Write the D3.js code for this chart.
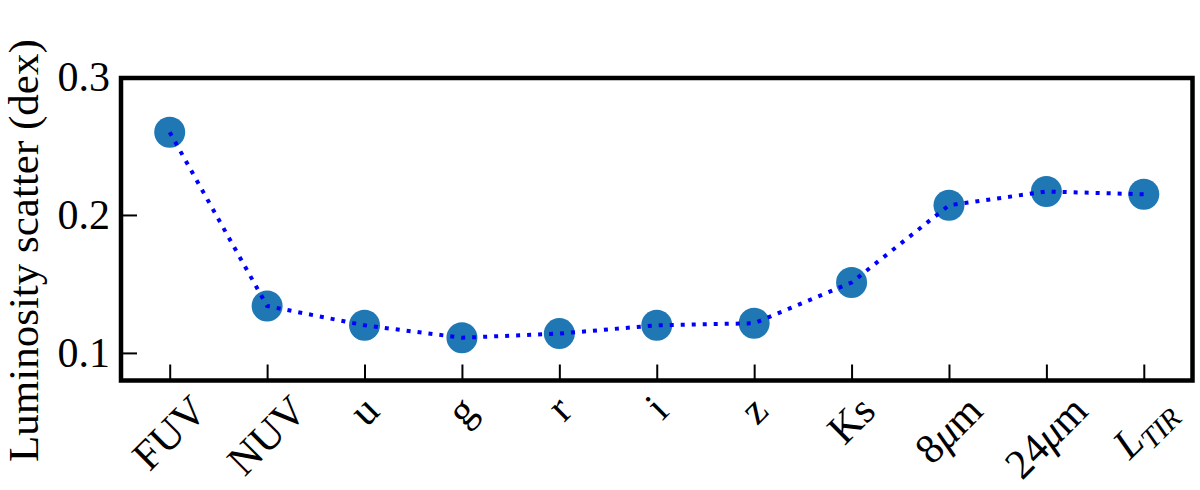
<!DOCTYPE html>
<html lang="en">
<head>
    <meta charset="UTF-8">
    <title>Luminosity scatter</title>
    <style>
        body { margin: 0; padding: 0; background: #fff; overflow: hidden; }
        svg { display: block; }
        text { font-family: "Liberation Serif", "DejaVu Serif", serif; fill: #000; }
    </style>
</head>
<body>
    <script src="https://d3js.org/d3.v7.min.js"></script>
    <script>
        const bands = ['FUV', 'NUV', 'u', 'g', 'r', 'i', 'z', 'Ks', '8um', '24um', 'LTIR'];
        const scatter = [0.260, 0.134, 0.120, 0.111, 0.114, 0.120, 0.1215, 0.151, 0.207, 0.217, 0.215];
        const yTicks = [0.1, 0.2, 0.3];

        const width = 1200, height = 490;
        const plotLeft = 121, plotRight = 1192.5, plotTop = 78, plotBottom = 380.5;

        const svg = d3.select('body').append('svg')
            .attr('width', width)
            .attr('height', height);

        const x = d3.scalePoint()
            .domain(bands)
            .range([plotLeft, plotRight])
            .padding(0.5);

        const y = d3.scaleLinear()
            .domain([0.08, 0.3])
            .range([plotBottom, plotTop - 1]);

        // markers, then dotted line on top
        svg.append('g')
            .selectAll('circle')
            .data(bands)
            .enter()
            .append('circle')
            .attr('cx', (d) => x(d))
            .attr('cy', (d, i) => y(scatter[i]))
            .attr('r', 15.5)
            .attr('fill', '#1f77b4');

        const line = d3.line()
            .x((d) => x(d))
            .y((d, i) => y(scatter[i]));

        svg.append('path')
            .datum(bands)
            .attr('d', line)
            .attr('fill', 'none')
            .attr('stroke', '#0000ff')
            .attr('stroke-width', 4)
            .attr('stroke-dasharray', '4,7');

        // y axis, inward ticks
        const yAxis = svg.append('g')
            .attr('transform', `translate(${plotLeft},0)`)
            .call(d3.axisLeft(y).tickValues(yTicks).tickSize(-16).tickPadding(11)
                .tickFormat(d3.format('.1f')));
        yAxis.select('.domain').remove();
        yAxis.selectAll('line').attr('stroke', '#000').attr('stroke-width', 2);
        yAxis.selectAll('text').style('font-size', '42px');

        // x axis, inward ticks
        const xAxis = svg.append('g')
            .attr('transform', `translate(0,${plotBottom})`)
            .call(d3.axisBottom(x).tickSize(-16).tickFormat(''));
        xAxis.select('.domain').remove();
        xAxis.selectAll('line').attr('stroke', '#000').attr('stroke-width', 2);

        // rotated band labels
        const labelTop = 393;
        const labels = svg.append('g');
        bands.forEach((b) => {
            const t = labels.append('text')
                .attr('text-anchor', 'middle')
                .attr('dy', '0.32em')
                .style('font-size', '42px');
            if (b === '8um' || b === '24um') {
                t.append('tspan').text(b.replace('um', ''));
                t.append('tspan').style('font-style', 'italic').text('\u03bc');
                t.append('tspan').text('m');
            } else if (b === 'LTIR') {
                t.append('tspan').style('font-style', 'italic').text('L');
                t.append('tspan').style('font-style', 'italic').style('font-size', '29px')
                    .attr('dy', '0.3em').text('TIR');
            } else {
                t.text(b);
            }
            const bb = t.node().getBBox();
            const h = 30;
            const half = (bb.width + h) / (2 * Math.SQRT2);
            t.attr('transform', `translate(${x(b)},${labelTop + half}) rotate(-45)`);
        });

        // frame
        svg.append('rect')
            .attr('x', plotLeft)
            .attr('y', plotTop)
            .attr('width', plotRight - plotLeft)
            .attr('height', plotBottom - plotTop)
            .attr('fill', 'none')
            .attr('stroke', '#000')
            .attr('stroke-width', 4.5);

        // y label
        svg.append('text')
            .attr('transform', `translate(38,462) rotate(-90)`)
            .attr('text-anchor', 'start')
            .style('font-size', '43px')
            .text('Luminosity scatter (dex)');
    </script>
</body>
</html>
